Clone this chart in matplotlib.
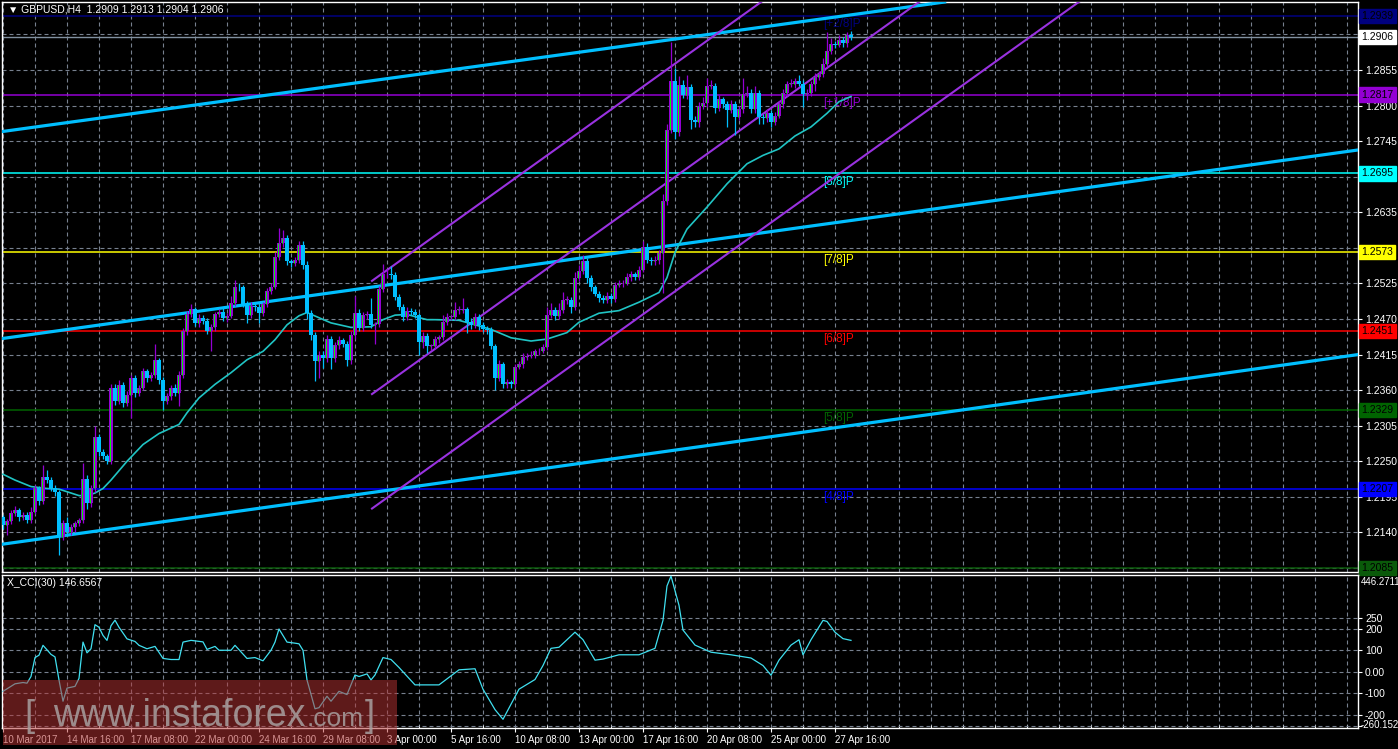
import matplotlib.pyplot as plt
from matplotlib.patches import Rectangle

plt.rcParams['font.family'] = ['Liberation Sans', 'DejaVu Sans']

# GBPUSD H4 bars, 10 Mar 2017 00:00 .. 28 Apr 2017 08:00 (open of each bar = previous close)
first_open = 1.2164
closes = [
    1.2151, 1.2157, 1.2170, 1.2175, 1.2164, 1.2167, 1.2160, 1.2172, 1.2208, 1.2188, 1.2226, 1.2221, 1.2208, 1.2202, 1.2133, 1.2154,
    1.2141, 1.2149, 1.2154, 1.2159, 1.2223, 1.2185, 1.2208, 1.2287, 1.2265, 1.2258, 1.2251, 1.2364, 1.2343, 1.2368, 1.2340, 1.2353,
    1.2379, 1.2356, 1.2364, 1.2389, 1.2379, 1.2383, 1.2406, 1.2376, 1.2343, 1.2351, 1.2364, 1.2356, 1.2383, 1.2451, 1.2477, 1.2485,
    1.2464, 1.2471, 1.2467, 1.2452, 1.2457, 1.2477, 1.2481, 1.2472, 1.2475, 1.2495, 1.2520, 1.2519, 1.2493, 1.2476, 1.2490, 1.2489,
    1.2480, 1.2493, 1.2513, 1.2520, 1.2566, 1.2588, 1.2595, 1.2559, 1.2556, 1.2561, 1.2585, 1.2554, 1.2480, 1.2446, 1.2405, 1.2415,
    1.2410, 1.2439, 1.2409, 1.2430, 1.2437, 1.2431, 1.2406, 1.2445, 1.2480, 1.2456, 1.2476, 1.2478, 1.2461, 1.2462, 1.2516, 1.2539,
    1.2540, 1.2538, 1.2504, 1.2489, 1.2473, 1.2482, 1.2481, 1.2476, 1.2435, 1.2444, 1.2428, 1.2428, 1.2439, 1.2442, 1.2466, 1.2473,
    1.2473, 1.2484, 1.2484, 1.2485, 1.2466, 1.2460, 1.2473, 1.2461, 1.2455, 1.2453, 1.2428, 1.2379, 1.2400, 1.2369, 1.2372, 1.2370,
    1.2396, 1.2401, 1.2411, 1.2413, 1.2415, 1.2420, 1.2421, 1.2427, 1.2476, 1.2484, 1.2475, 1.2484, 1.2499, 1.2500, 1.2489, 1.2533,
    1.2544, 1.2559, 1.2534, 1.2519, 1.2509, 1.2503, 1.2499, 1.2506, 1.2501, 1.2523, 1.2525, 1.2526, 1.2535, 1.2539, 1.2535, 1.2546,
    1.2581, 1.2561, 1.2559, 1.2561, 1.2572, 1.2653, 1.2762, 1.2838, 1.2759, 1.2832, 1.2816, 1.2828, 1.2778, 1.2775, 1.2799, 1.2804,
    1.2830, 1.2830, 1.2797, 1.2810, 1.2802, 1.2793, 1.2802, 1.2782, 1.2794, 1.2818, 1.2820, 1.2794, 1.2820, 1.2782, 1.2780, 1.2789,
    1.2775, 1.2784, 1.2802, 1.2820, 1.2833, 1.2833, 1.2838, 1.2834, 1.2818, 1.2820, 1.2833, 1.2844, 1.2849, 1.2864, 1.2885, 1.2895,
    1.2894, 1.2901, 1.2896, 1.2909, 1.2906,
]
# wick lengths in pips above / below the body
up_wick = [
    3, 4, 4, 6, 3, 4, 5, 8, 5, 4, 19, 10, 4, 5, 3, 5,
    10, 4, 3, 4, 25, 6, 5, 17, 5, 4, 4, 5, 6, 8, 4, 5,
    5, 4, 4, 6, 4, 5, 26, 4, 4, 5, 4, 5, 6, 5, 6, 8,
    4, 6, 5, 4, 5, 4, 5, 6, 4, 10, 10, 5, 4, 5, 6, 4,
    4, 4, 5, 6, 8, 22, 13, 5, 4, 5, 6, 5, 6, 4, 4, 5,
    5, 6, 4, 5, 6, 4, 5, 6, 26, 5, 5, 4, 25, 4, 5, 16,
    8, 12, 5, 4, 4, 6, 5, 4, 4, 6, 4, 4, 5, 4, 10, 6,
    5, 12, 6, 18, 4, 5, 6, 4, 5, 4, 5, 4, 6, 4, 5, 4,
    5, 4, 6, 4, 5, 4, 4, 5, 12, 10, 5, 10, 12, 6, 4, 10,
    10, 10, 5, 4, 4, 5, 4, 6, 4, 5, 5, 4, 6, 5, 4, 6,
    10, 6, 5, 6, 5, 10, 10, 60, 20, 13, 8, 20, 5, 6, 6, 10,
    12, 10, 5, 6, 4, 5, 6, 5, 6, 25, 10, 5, 10, 4, 5, 6,
    4, 6, 5, 6, 5, 8, 4, 10, 5, 6, 5, 6, 5, 10, 29, 10,
    5, 8, 5, 4, 7,
]
dn_wick = [
    5, 15, 4, 5, 6, 4, 5, 6, 4, 5, 4, 5, 4, 5, 28, 5,
    6, 5, 8, 4, 5, 8, 6, 5, 6, 4, 5, 5, 6, 5, 6, 4,
    36, 6, 5, 4, 6, 5, 4, 6, 14, 5, 6, 5, 20, 4, 5, 4,
    5, 6, 4, 5, 32, 6, 4, 5, 6, 4, 5, 6, 4, 12, 5, 6,
    16, 5, 4, 5, 4, 5, 6, 5, 6, 4, 5, 6, 10, 8, 31, 26,
    15, 6, 17, 5, 6, 4, 9, 5, 6, 5, 4, 6, 5, 30, 5, 4,
    5, 6, 4, 5, 6, 4, 5, 4, 20, 10, 10, 6, 5, 6, 4, 5,
    4, 5, 6, 4, 17, 5, 4, 8, 5, 6, 5, 18, 5, 5, 6, 6,
    5, 4, 6, 5, 4, 5, 6, 4, 5, 4, 6, 5, 4, 6, 10, 5,
    4, 5, 8, 5, 4, 7, 5, 4, 6, 5, 4, 5, 4, 6, 5, 4,
    4, 5, 6, 5, 6, 62, 6, 5, 10, 6, 5, 6, 14, 8, 8, 5,
    6, 5, 8, 6, 5, 26, 4, 28, 5, 6, 4, 5, 6, 10, 8, 5,
    8, 5, 4, 6, 5, 4, 6, 4, 20, 10, 5, 10, 4, 5, 4, 6,
    5, 4, 6, 5, 4,
]

# moving average (read at bar positions)
ma_bar = [0, 3, 7, 11, 14, 17, 19, 21, 23, 25, 27, 31, 35, 39, 44, 46, 49, 53, 57, 61, 65, 68, 71, 74, 76,
          79, 82, 87, 92, 95, 98, 101, 106, 108, 114, 122, 127, 132, 136, 141, 144, 149, 154, 159, 164,
          166, 168, 171, 176, 181, 186, 190, 194, 198, 202, 206, 209, 212]
ma_val = [1.2230, 1.2221, 1.2211, 1.2208, 1.2207, 1.2201, 1.2197, 1.2197, 1.2201, 1.2208, 1.2221, 1.2250,
          1.2276, 1.2293, 1.2307, 1.2325, 1.2348, 1.2369, 1.2387, 1.2407, 1.2420, 1.2438, 1.2461, 1.2475,
          1.2480, 1.2472, 1.2464, 1.2457, 1.2458, 1.2469, 1.2476, 1.2477, 1.2469, 1.2469, 1.2468, 1.2454,
          1.2441, 1.2436, 1.2439, 1.2449, 1.2465, 1.2479, 1.2483, 1.2496, 1.2511, 1.2534, 1.2573, 1.2609,
          1.2643, 1.2679, 1.2710, 1.2723, 1.2733, 1.2753, 1.2767, 1.2788, 1.2806, 1.2814]

# X_CCI(30)
cci_bar = [0, 3, 5, 6, 7, 8, 9, 10, 12, 13, 14, 15, 16, 18, 19, 20, 21, 22, 23, 24, 25, 26, 27, 28, 29,
           31, 33, 34, 36, 38, 40, 42, 44, 45, 47, 50, 51, 53, 54, 57, 58, 61, 63, 65, 67, 68, 69, 71,
           73, 74, 75, 76, 78, 79, 81, 82, 84, 86, 88, 89, 91, 92, 93, 95, 97, 99, 103, 109, 114, 118,
           120, 123, 125, 127, 129, 133, 135, 137, 139, 143, 145, 148, 150, 154, 159, 163, 165, 166, 167,
           169, 170, 173, 177, 182, 187, 190, 192, 194, 197, 199, 200, 202, 205, 206, 208, 210, 212]
cci_val = [-90, -55, -49, -52, -21, 67, 78, 124, 82, 70, -37, -136, -75, -67, -30, 139, 89, 108, 220, 208,
           170, 147, 215, 241, 208, 154, 142, 124, 108, 119, 63, 58, 58, 139, 147, 140, 105, 119, 101, 101,
           124, 63, 67, 52, 101, 139, 200, 139, 134, 131, 101, -37, -171, -166, -113, -136, -90, -105, -14,
           -21, -9, -37, -14, 67, 58, 21, -60, -60, 10, 15, -80, -175, -220, -150, -80, -35, 30, 110, 115,
           185, 150, 55, 60, 80, 80, 110, 240, 400, 446, 310, 195, 125, 92, 80, 65, 30, -15, 55, 125, 150,
           80, 150, 240, 235, 185, 155, 147]

date_labels = ['10 Mar 2017', '14 Mar 16:00', '17 Mar 08:00', '22 Mar 00:00', '24 Mar 16:00',
               '29 Mar 08:00', '3 Apr 00:00', '5 Apr 16:00', '10 Apr 08:00', '13 Apr 00:00',
               '17 Apr 16:00', '20 Apr 08:00', '25 Apr 00:00', '27 Apr 16:00']

# Murrey levels
levels = [1.2939, 1.2817, 1.2695, 1.2573, 1.2451, 1.2329, 1.2207, 1.2085]
level_names = ['[+2/8]P', '[+1/8]P', '[8/8]P', '[7/8]P', '[6/8]P', '[5/8]P', '[4/8]P', '']
level_colors = ['#000080', '#9400d3', '#00ffff', '#ffff00', '#ff0000', '#006400', '#0000ff', '#0a5a0a']

# trend lines (two anchor points each) and regression channel
trend_lines = [((0, 1.2760), (200, 1.2930)),
               ((0, 1.2440), (200, 1.2612)),
               ((0, 1.2122), (200, 1.2295))]
chan_x = [92.25, 340]
chan_lines = [[1.2529, 1.3627], [1.2354, 1.3452], [1.2177, 1.3275]]

price_ticks = [1.2085, 1.2140, 1.2195, 1.2250, 1.2305, 1.2360, 1.2415, 1.2470, 1.2525,
               1.2580, 1.2635, 1.2690, 1.2745, 1.2800, 1.2855, 1.2910]
hidden_ticks = [1.2085, 1.2580, 1.2690, 1.2910]   # covered by the level boxes
cci_ticks = [250, 200, 100, 0, -100, -200, -250]
cci_tick_labels = ['250', '200', '100', '0.00', '-100', '-200', '']

W, H = 1398, 749
grid_kw = dict(color='#77808f', lw=0.8, linestyle=(0, (3.6, 2.7)))

fig = plt.figure(figsize=(W / 100, H / 100), dpi=100, facecolor='black')
ax = fig.add_axes([2 / W, 1 - 572 / H, 1356 / W, 570 / H], facecolor='black')
ax2 = fig.add_axes([2 / W, 1 - 728 / H, 1356 / W, 153 / H], facecolor='black')

for a in (ax, ax2):
    a.set_xlim(-0.25, 338.75)
    for s in a.spines.values():
        s.set_color('white')
        s.set_linewidth(1)
    a.yaxis.tick_right()
    a.tick_params(axis='y', colors='white', length=3, labelsize=7.5, pad=2)

ax.set_ylim(1.20789, 1.29601)
ax2.set_ylim(-260.5, 451)

# grid
ax.set_xticks(range(0, 339, 8))
ax.tick_params(axis='x', length=0, labelbottom=False)
ax.set_yticks(price_ticks)
ax.set_yticklabels(['' if t in hidden_ticks else f'{t:.4f}' for t in price_ticks])
ax.grid(True, **grid_kw)
ax.set_axisbelow(True)

ax2.set_xticks(range(0, 16 * len(date_labels), 16))
ax2.set_xticklabels(date_labels)
ax2.set_xticks([t for t in range(0, 339, 8) if t % 16 or t >= 16 * len(date_labels)], minor=True)
ax2.tick_params(axis='x', which='major', colors='white', length=3, labelsize=7, pad=2)
ax2.tick_params(axis='x', which='minor', colors='white', length=2, direction='in')
for lab in ax2.get_xticklabels():
    lab.set_ha('left')
ax2.set_yticks(cci_ticks)
ax2.set_yticklabels(cci_tick_labels)
ax2.grid(True, which='both', axis='x', **grid_kw)
ax2.grid(True, which='major', axis='y', **grid_kw)
ax2.set_axisbelow(True)

# Murrey levels and labels
for lvl, name, col in zip(levels, level_names, level_colors):
    ax.axhline(lvl, color=col, lw=1.1, zorder=2)
    if name:
        ax.annotate(name, (205, lvl), xytext=(0, -1.5), textcoords='offset points',
                    va='top', ha='left', color=col, fontsize=8.5, zorder=3)
    ax.annotate(f'{lvl:.4f}', (1, lvl), xycoords=('axes fraction', 'data'), xytext=(2.5, 0),
                textcoords='offset points', va='center', ha='left', fontsize=7.5, color='black',
                bbox=dict(boxstyle='square,pad=0.2', fc=col, ec=col), annotation_clip=False, zorder=5)

last = closes[-1]
ax.axhline(last, color='#8090a0', lw=1.0, zorder=2)
ax.annotate(f'{last:.4f}', (1, last), xycoords=('axes fraction', 'data'), xytext=(2.5, 0),
            textcoords='offset points', va='center', ha='left', fontsize=7.5, color='black',
            bbox=dict(boxstyle='square,pad=0.2', fc='white', ec='white'), annotation_clip=False, zorder=5)

# trend lines and channel
for p0, p1 in trend_lines:
    ax.axline(p0, p1, color='#00bfff', lw=2.3, zorder=3)
for ys in chan_lines:
    ax.plot(chan_x, ys, color='#9932e0', lw=1.5, zorder=3)

# moving average
ax.plot(ma_bar, ma_val, color='#20c4c4', lw=1.2, zorder=3)

# candles
n = len(closes)
xs = list(range(n))
opens = [first_open] + closes[:-1]
highs = [max(o, c) + u / 10000 for o, c, u in zip(opens, closes, up_wick)]
lows = [min(o, c) - d / 10000 for o, c, d in zip(opens, closes, dn_wick)]
bull = [c >= o for o, c in zip(opens, closes)]
cols = ['#9400d3' if b else '#00bfff' for b in bull]
ax.vlines(xs, lows, highs, colors=cols, lw=0.9, zorder=4)
bottoms = [min(o, c) for o, c in zip(opens, closes)]
heights = [max(abs(c - o), 0.00012) for o, c in zip(opens, closes)]
ax.bar(xs, heights, bottom=bottoms, width=0.78, color=cols, lw=0, zorder=5)
bx = [x - 0.28 for x, b in zip(xs, bull) if b]
ax.vlines(bx, [bt for bt, b in zip(bottoms, bull) if b],
          [bt + h for bt, h, b in zip(bottoms, heights, bull) if b],
          colors='#00ff00', lw=0.7, zorder=6)

# CCI
ax2.plot(cci_bar, cci_val, color='#40e0f0', lw=0.9, zorder=3)

fig.text(8 / W, 1 - 10 / H, '\u25bc GBPUSD,H4  1.2909 1.2913 1.2904 1.2906', color='white',
         fontsize=7.5, va='center', ha='left')
fig.text(7 / W, 1 - 583 / H, 'X_CCI(30) 146.6567', color='white', fontsize=7.5, va='center', ha='left')
fig.text(1361 / W, 1 - 582 / H, '446.2711', color='white', fontsize=7, va='center', ha='left')
fig.text(1361 / W, 1 - 725 / H, '-260.152', color='white', fontsize=7, va='center', ha='left')

# watermark
fig.patches.append(Rectangle((3 / W, 1 - 745 / H), 394 / W, 65 / H, transform=fig.transFigure,
                             facecolor=(0.71, 0.2, 0.2), alpha=0.52, lw=0, zorder=10))
wm = dict(color='#a8a0a0', alpha=0.85, va='baseline', ha='left', zorder=11)
fig.text(24 / W, 1 - 726 / H, '[', fontsize=26, **wm)
fig.text(53 / W, 1 - 726 / H, 'www.instaforex', fontsize=27, **wm)
fig.text(307 / W, 1 - 726 / H, '.com', fontsize=19, **wm)
fig.text(365 / W, 1 - 726 / H, ']', fontsize=26, **wm)

fig.savefig('out.png', dpi=100, facecolor='black')
